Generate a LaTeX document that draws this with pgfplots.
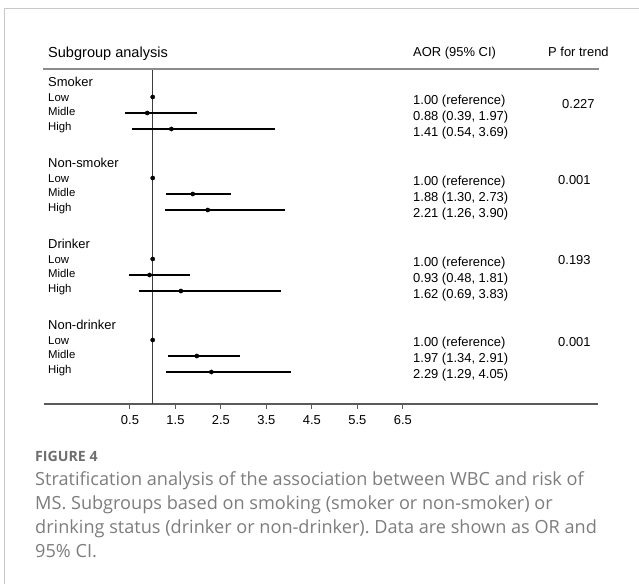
\documentclass[border=0pt]{standalone}
\usepackage{pgfplots}
\pgfplotsset{compat=1.18}
\usepackage{pgfplotstable}
\usepackage{fontspec}
\setmainfont{Liberation Sans}
\newfontfamily\capfont{Open Sans}
\definecolor{capgray}{RGB}{125,125,125}
\definecolor{figgray}{RGB}{110,110,110}
\definecolor{framegray}{RGB}{200,200,200}
\definecolor{axgray}{RGB}{90,90,90}
\definecolor{hdrgray}{RGB}{140,140,140}
\definecolor{refgray}{RGB}{60,60,60}
\frenchspacing

% row: vertical slot of each line (Low, Midle, High per group); or: AOR; lo/hi: 95% CI
\pgfplotstableread{
row or lo hi
0 1.00 1.00 1.00
1 0.88 0.39 1.97
2 1.41 0.54 3.69
5.0625 1.00 1.00 1.00
6.0625 1.88 1.30 2.73
7.0625 2.21 1.26 3.90
10.125 1.00 1.00 1.00
11.125 0.93 0.48 1.81
12.125 1.62 0.69 3.83
15.1875 1.00 1.00 1.00
16.1875 1.97 1.34 2.91
17.1875 2.29 1.29 4.05
}\aordata

\newcommand{\fs}[1]{\fontsize{#1}{#1}\selectfont}

\begin{document}
\begin{tikzpicture}
\useasboundingbox (0,0) rectangle (639bp,-584bp);
\draw[framegray, line width=1bp] (639bp,-8.5bp) -- (4.5bp,-8.5bp) -- (4.5bp,-584bp);

\begin{axis}[
  at={(44bp,-404bp)}, anchor=south west,
  scale only axis, width=554bp, height=335bp,
  xmin=-1.39, xmax=10.79, ymin=-19.1875, ymax=1.75,
  axis x line=bottom, axis y line=none,
  x axis line style={-, draw=axgray, line width=1.2bp},
  xtick={0.5,1.5,2.5,3.5,4.5,5.5,6.5},
  ytick=\empty,
  tick align=outside, major tick length=5bp,
  tick style={axgray, line width=1bp},
  /pgf/number format/assume math mode=true,
  xticklabel style={font=\fs{13}, text=black, yshift=-3bp},
  clip=false,
]
\draw[refgray, line width=1.1bp] (axis cs:1,1.75) -- (axis cs:1,-19.1875);
\addplot[black, only marks, mark=*, mark size=2.1bp,
  error bars/.cd, x dir=both, x explicit, error mark=none,
  error bar style={black, line width=1.6bp}]
  table[x=or, y expr=-\thisrow{row},
        x error plus expr=\thisrow{hi}-\thisrow{or},
        x error minus expr=\thisrow{or}-\thisrow{lo}] {\aordata};
\end{axis}

\draw[hdrgray, line width=1.6bp] (43bp,-69bp) -- (599bp,-69bp);

\begin{scope}[every node/.style={inner sep=0pt, anchor=base west}]
\node at (48bp,-57bp) {\fs{14.6}Subgroup analysis};
\node at (413bp,-56bp) {\fs{13}AOR (95\% CI)};
\node at (548bp,-56bp) {\fs{13}P for trend};

% group and row labels
\foreach \g/\name [count=\i from 0] in {Smoker,Non-smoker,Drinker,Non-drinker}{
  \pgfmathsetmacro{\yb}{86.7+81*\i}
  \node at (48bp,-\yb bp) {\fs{13}\name};
  \pgfmathsetmacro{\ya}{101.3+81*\i}
  \pgfmathsetmacro{\yc}{115.8+81*\i}
  \pgfmathsetmacro{\yd}{130.1+81*\i}
  \node at (48bp,-\ya bp) {\fs{11.4}Low};
  \node at (48bp,-\yc bp) {\fs{11.4}Midle};
  \node at (48bp,-\yd bp) {\fs{11.4}High};
}

% AOR texts
\node at (413bp,-104.7bp) {\fs{13}1.00 (reference)};
\node at (413bp,-120.7bp) {\fs{13}0.88 (0.39, 1.97)};
\node at (413bp,-136.7bp) {\fs{13}1.41 (0.54, 3.69)};
\node at (413bp,-185.2bp) {\fs{13}1.00 (reference)};
\node at (413bp,-201.2bp) {\fs{13}1.88 (1.30, 2.73)};
\node at (413bp,-217.2bp) {\fs{13}2.21 (1.26, 3.90)};
\node at (413bp,-266.2bp) {\fs{13}1.00 (reference)};
\node at (413bp,-282.2bp) {\fs{13}0.93 (0.48, 1.81)};
\node at (413bp,-298.2bp) {\fs{13}1.62 (0.69, 3.83)};
\node at (413bp,-346.7bp) {\fs{13}1.00 (reference)};
\node at (413bp,-362.7bp) {\fs{13}1.97 (1.34, 2.91)};
\node at (413bp,-378.7bp) {\fs{13}2.29 (1.29, 4.05)};

% P for trend
\node at (562bp,-108.7bp) {\fs{13}0.227};
\node at (558bp,-184.7bp) {\fs{13}0.001};
\node at (558bp,-264bp) {\fs{13}0.193};
\node at (558bp,-346.4bp) {\fs{13}0.001};

% caption
\node[text=figgray] at (35bp,-461bp) {\capfont\bfseries\fs{14.2}FIGURE 4};
\node[text=capgray] at (35bp,-485.5bp) {\capfont\fs{18.2}Stratification analysis of the association between WBC and risk of};
\node[text=capgray] at (35bp,-509.5bp) {\capfont\fs{18.2}MS. Subgroups based on smoking (smoker or non-smoker) or};
\node[text=capgray] at (35bp,-533.5bp) {\capfont\fs{18.2}drinking status (drinker or non-drinker). Data are shown as OR and};
\node[text=capgray] at (35bp,-557.5bp) {\capfont\fs{18.2}95\% CI.};
\end{scope}
\end{tikzpicture}
\end{document}
